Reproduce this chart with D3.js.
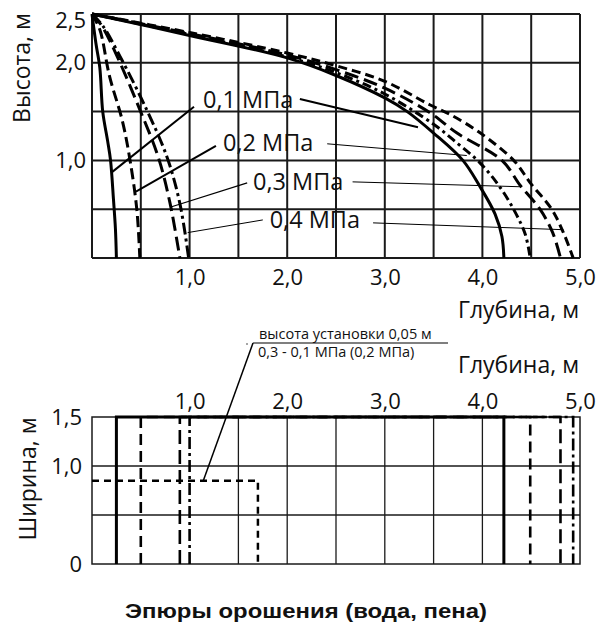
<!DOCTYPE html>
<html><head><meta charset="utf-8">
<script src="https://cdn.jsdelivr.net/npm/d3@7/dist/d3.min.js"></script>
<style>
html,body{margin:0;padding:0;background:#fff;}
text{font-family:"Open Sans",sans-serif;fill:#111;}
</style></head>
<body><svg id="c" width="597" height="627"></svg>
<script>
// ---------- data ----------
const pressures = ["0,1 МПа","0,2 МПа","0,3 МПа","0,4 МПа"];
// jets directed downward (left family): [depth, height]
const leftJet01 = [[0,2.5],[0.04,2.2],[0.08,1.95],[0.11,1.5],[0.16,1.2],[0.19,1.0],[0.22,0.6],[0.24,0.3],[0.25,0]];
const leftJet02 = [[0,2.5],[0.08,2.34],[0.18,1.86],[0.31,1.41],[0.39,1.0],[0.46,0.49],[0.49,0]];
const leftJet03 = [[0,2.5],[0.1,2.38],[0.26,2.06],[0.49,1.52],[0.68,1.03],[0.8,0.56],[0.9,0]];
const leftJet04 = [[0,2.5],[0.11,2.38],[0.29,2.06],[0.56,1.52],[0.77,1.03],[0.9,0.56],[0.99,0]];
// jets directed near-horizontally (right family)
const rightJet01 = [[0,2.5],[1.0,2.28],[2.0,2.05],[2.5,1.87],[3.0,1.64],[3.23,1.5],[3.5,1.28],[3.8,1.0],[3.97,0.74],[4.13,0.45],[4.2,0.22],[4.22,0]];
const rightJet02 = [[0,2.5],[1.0,2.29],[2.0,2.06],[2.5,1.9],[3.0,1.68],[3.5,1.37],[3.75,1.17],[3.97,0.98],[4.17,0.74],[4.33,0.48],[4.44,0.24],[4.49,0]];
const rightJet03 = [[0,2.5],[1.0,2.3],[2.0,2.08],[2.5,1.93],[3.0,1.74],[3.46,1.49],[3.74,1.28],[4.2,1.0],[4.39,0.74],[4.59,0.5],[4.72,0.26],[4.8,0]];
const rightJet04 = [[0,2.5],[1.0,2.31],[2.0,2.1],[2.5,1.97],[3.0,1.81],[3.46,1.57],[3.67,1.47],[3.98,1.28],[4.33,0.99],[4.49,0.77],[4.71,0.5],[4.83,0.26],[4.93,0]];
// irrigation zone limits on the floor (min depth, max depth), width 0..1.5 m
const zoneMin = [0.25,0.5,0.9,1.0];
const zoneMax = [4.22,4.49,4.8,4.93];
const zoneWidth = 1.5;
// foam zone (installation height 0.05 m)
const foamDepth = 1.7;
const foamWidth = 0.85;
// ticks
const topXTicks = [1,2,3,4,5];
const topYTicks = [1.0,2.0,2.5];
const botXTicks = [1,2,3,4,5];
const botYTicks = [0,1.0,1.5];
const topGridX = [0,0.5,1,1.5,2,2.5,3,3.5,4,4.5,5];
const topGridY = [0,0.5,1,1.5,2,2.5];
const botGridX = [1.5,2,2.5,3,3.5,4];
const botGridY = [0.5,1.0];

// ---------- styles ----------
const leftDash = [null,"11,5","14,6","12,4,3,4"];
const rightDash = [null,"9,4,3,4","14,6","9,5"];
const svg = d3.select("#c");
const fmt = d => d===0 ? "0" : d.toFixed(1).replace(".", ",");
const tickFont = 22;

const x = d3.scaleLinear().domain([0,5]).range([92,580]);
const y = d3.scaleLinear().domain([0,2.5]).range([258,14]);
const yb = d3.scaleLinear().domain([0,1.5]).range([564,417]);

// ---------- top chart ----------
const g = svg.append("g");
g.selectAll(".gx").data(topGridX).join("line")
 .attr("x1",d=>x(d)).attr("x2",d=>x(d)).attr("y1",y(0)).attr("y2",y(2.5))
 .attr("stroke","#1a1a1a").attr("stroke-width",2);
g.selectAll(".gy").data(topGridY).join("line")
 .attr("y1",d=>y(d)).attr("y2",d=>y(d)).attr("x1",x(0)).attr("x2",x(5))
 .attr("stroke","#1a1a1a").attr("stroke-width",2);

const line = d3.line().x(d=>x(d[0])).y(d=>y(d[1])).curve(d3.curveCatmullRom.alpha(0.5));
[leftJet01,leftJet02,leftJet03,leftJet04].forEach((pts,i)=>{
  g.append("path").attr("d",line(pts)).attr("fill","none")
   .attr("stroke","#000").attr("stroke-width",3).attr("stroke-dasharray",leftDash[i]);
});
[rightJet01,rightJet02,rightJet03,rightJet04].forEach((pts,i)=>{
  g.append("path").attr("d",line(pts)).attr("fill","none")
   .attr("stroke","#000").attr("stroke-width",3).attr("stroke-dasharray",rightDash[i]);
});

// labels with leaders (positions in data units, text baseline)
const labelPos = [[1.137,1.537],[1.342,1.096],[1.65,0.697],[1.82,0.307]];
const leftLeader = [[[1.045,1.55],[0.205,0.88]],[[1.27,1.15],[0.45,0.68]],[[1.59,0.77],[0.8,0.52]],[[1.75,0.39],[0.98,0.26]]];
const rightLeader = [[[2.13,1.63],[3.34,1.34]],[[2.41,1.17],[3.84,1.05]],[[2.67,0.78],[4.39,0.73]],[[2.88,0.36],[4.83,0.29]]];
const leaderW = [[2,2],[2,1],[1.3,1],[1,1]];
pressures.forEach((p,i)=>{
  g.append("text").attr("x",x(labelPos[i][0])).attr("y",y(labelPos[i][1]))
    .attr("font-size",23.5).text(p);
  [leftLeader[i],rightLeader[i]].forEach((l,k)=>{
    g.append("line").attr("x1",x(l[0][0])).attr("y1",y(l[0][1])).attr("x2",x(l[1][0])).attr("y2",y(l[1][1]))
     .attr("stroke","#000").attr("stroke-width",leaderW[i][k]);
  });
});

// axes
const ax = svg.append("g").attr("transform",`translate(0,${y(0)})`)
  .call(d3.axisBottom(x).tickValues(topXTicks).tickFormat(fmt).tickSize(0).tickPadding(11));
ax.select(".domain").remove();
ax.selectAll("text").attr("font-size",tickFont).attr("font-family","Open Sans").attr("fill","#111");
const ay = svg.append("g").attr("transform",`translate(${x(0)},0)`)
  .call(d3.axisLeft(y).tickValues(topYTicks).tickFormat(fmt).tickSize(0).tickPadding(6));
ay.select(".domain").remove();
ay.selectAll("text").attr("font-size",tickFont).attr("font-family","Open Sans").attr("fill","#111")
  .attr("dy",d=>d===2.5?"0.62em":"0.32em");
svg.append("text").attr("x",579).attr("y",318).attr("text-anchor","end").attr("font-size",23).text("Глубина, м");
svg.append("text").attr("transform","translate(30,68) rotate(-90)").attr("text-anchor","middle").attr("font-size",23).text("Высота, м");

// ---------- bottom chart ----------
const gb = svg.append("g");
gb.append("rect").attr("x",x(0)).attr("y",yb(1.5)).attr("width",x(5)-x(0)).attr("height",yb(0)-yb(1.5))
  .attr("fill","none").attr("stroke","#1a1a1a").attr("stroke-width",1.5);
gb.selectAll(".bgx").data(botGridX).join("line")
  .attr("x1",d=>x(d)).attr("x2",d=>x(d)).attr("y1",yb(0)).attr("y2",yb(1.5))
  .attr("stroke","#1a1a1a").attr("stroke-width",1.3);
gb.selectAll(".bgy").data(botGridY).join("line")
  .attr("y1",d=>yb(d)).attr("y2",d=>yb(d)).attr("x1",x(0)).attr("x2",x(5))
  .attr("stroke","#1a1a1a").attr("stroke-width",1.3);
const botDash = [null,"11,6","14,6","12,4,3,4"];
zoneMin.forEach((mn,i)=>{
  const mx = zoneMax[i];
  const pts = [[mn,0],[mn,zoneWidth],[mx,zoneWidth],[mx,0]];
  gb.append("path").attr("d",d3.line().x(d=>x(d[0])).y(d=>yb(d[1]))(pts))
    .attr("fill","none").attr("stroke","#000").attr("stroke-width",i===0?3:2.6)
    .attr("stroke-dasharray",botDash[i]);
});
// foam zone
gb.append("path").attr("d",d3.line().x(d=>x(d[0])).y(d=>yb(d[1]))([[0,foamWidth],[foamDepth,foamWidth],[foamDepth,0]]))
  .attr("fill","none").attr("stroke","#000").attr("stroke-width",2.5).attr("stroke-dasharray","7,5");
// annotation
const ann = {x0:x(1.14), y0:yb(foamWidth), x1:253, y1:343, x2:448};
gb.append("line").attr("x1",ann.x0).attr("y1",ann.y0).attr("x2",ann.x1).attr("y2",ann.y1).attr("stroke","#000").attr("stroke-width",1.5);
gb.append("line").attr("x1",ann.x1).attr("y1",ann.y1).attr("x2",ann.x2).attr("y2",ann.y1).attr("stroke","#000").attr("stroke-width",1.2);
gb.append("circle").attr("cx",247).attr("cy",344).attr("r",0.8).attr("fill","#333");
gb.append("text").attr("x",259).attr("y",339).attr("font-size",14.5).text("высота установки 0,05 м");
gb.append("text").attr("x",258).attr("y",357).attr("font-size",14.5).text("0,3 - 0,1 МПа (0,2 МПа)");

const bx = svg.append("g").attr("transform",`translate(0,${yb(1.5)})`)
  .call(d3.axisTop(x).tickValues(botXTicks).tickFormat(fmt).tickSize(0).tickPadding(8));
bx.select(".domain").remove();
bx.selectAll("text").attr("font-size",tickFont).attr("font-family","Open Sans").attr("fill","#111");
const by = svg.append("g").attr("transform",`translate(${x(0)},0)`)
  .call(d3.axisLeft(yb).tickValues(botYTicks).tickFormat(fmt).tickSize(0).tickPadding(10));
by.select(".domain").remove();
by.selectAll("text").attr("font-size",tickFont).attr("font-family","Open Sans").attr("fill","#111");
svg.append("text").attr("x",579).attr("y",373).attr("text-anchor","end").attr("font-size",23).text("Глубина, м");
svg.append("text").attr("transform","translate(36,479) rotate(-90)").attr("text-anchor","middle").attr("font-size",23).text("Ширина, м");

// title
svg.append("text").attr("x",125).attr("y",618)
  .style("font-family","'Liberation Sans',Arial,sans-serif").attr("font-weight","bold").attr("font-size",21)
  .attr("textLength",362).attr("lengthAdjust","spacingAndGlyphs")
  .text("Эпюры орошения (вода, пена)");
</script></body></html>
